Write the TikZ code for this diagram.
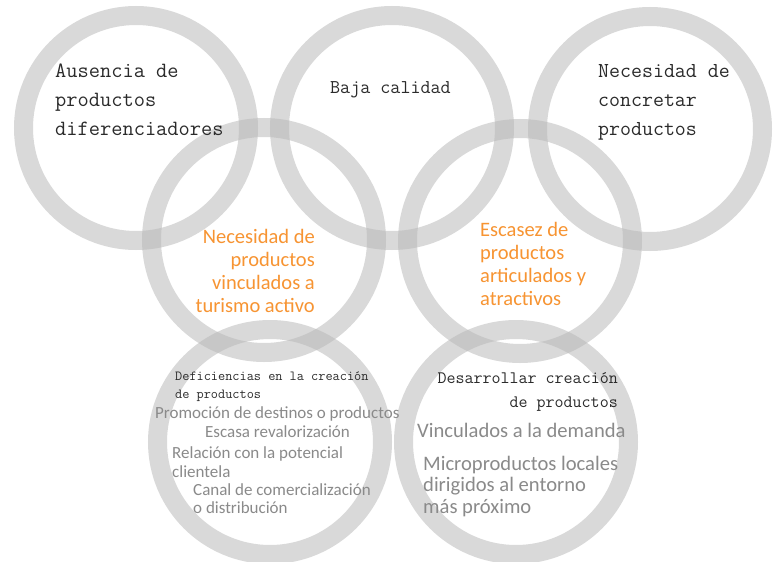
\documentclass[tikz,border=0pt]{standalone}
\usepackage{fontspec}
\setsansfont{Carlito}
\usetikzlibrary{positioning}
\definecolor{Ring}{HTML}{BABABA}
\definecolor{Ink}{HTML}{2B2B2B}
\definecolor{Ash}{HTML}{8A8A8A}
\definecolor{Tangerine}{HTML}{F79432}

\begin{document}
\begin{tikzpicture}[x=1pt, y=-1pt, every node/.style={inner sep=0pt},
    ring/.style={circle, draw=Ring, draw opacity=0.55, line width=19pt, minimum size=225pt},
    hand/.style={font=\ttfamily, text=Ink},
    orange/.style={font=\sffamily, text=Tangerine},
    grey/.style={font=\sffamily, text=Ash}]
      \useasboundingbox[fill=white] (0,0) rectangle (774,562);
      
      % top row
      \node[ring] (c1) at (136,128) {};
      \node[ring] (c2) at (392,128) {};
      \node[ring] (c3) at (650,129) {};
      % middle row
      \node[ring] (c4) at (264,240) {};
      \node[ring] (c5) at (520,241) {};
      % bottom row
      \node[ring] (c6) at (270,442) {};
      \node[ring] (c7) at (516,442) {};
      
      % base anchor = baseline of the last line
      \node[hand, font=\ttfamily\fontsize{21.8}{29}\selectfont, align=left, anchor=base west] (t1) at (55,135) {Ausencia de\\productos\\diferenciadores};
      \node[hand, font=\ttfamily\fontsize{19.5}{29}\selectfont, anchor=base west] (t2) at (330,93) {Baja calidad};
      \node[hand, font=\ttfamily\fontsize{21.3}{29}\selectfont, align=left, anchor=base west] (t3) at (598,135) {Necesidad de\\concretar\\productos};
      
      \node[orange, font=\sffamily\fontsize{20.5}{23}\selectfont, align=right, anchor=base east] (t4) at (315,312) {Necesidad de\\productos\\vinculados a\\turismo activo};
      \node[orange, font=\sffamily\fontsize{20.5}{23}\selectfont, align=left, anchor=base west] (t5) at (480,305) {Escasez de\\productos\\articulados y\\atractivos};
      
      \node[hand, font=\ttfamily\fontsize{13.9}{18}\selectfont, align=left, anchor=base west] (t6) at (175,398) {Deficiencias en la creación\\de productos};
      \node[grey, font=\sffamily\fontsize{17}{19}\selectfont, anchor=base west] (g1) at (155,418) {Promoción de destinos o productos};
      \node[grey, font=\sffamily\fontsize{17}{19}\selectfont, anchor=base west] (g2) at (205,437) {Escasa revalorización};
      \node[grey, font=\sffamily\fontsize{17}{19}\selectfont, align=left, anchor=base west] (g3) at (172,477) {Relación con la potencial\\clientela};
      \node[grey, font=\sffamily\fontsize{17}{18}\selectfont, align=left, anchor=base west] (g4) at (193,513) {Canal de comercialización\\o distribución};
      
      \node[hand, font=\ttfamily\fontsize{17.5}{24}\selectfont, align=right, anchor=base east] (t7) at (618,407) {Desarrollar creación\\de productos};
      \node[grey, font=\sffamily\fontsize{20.6}{22}\selectfont, anchor=base west] (g5) at (417,437) {Vinculados a la demanda};
      \node[grey, font=\sffamily\fontsize{20.6}{21.5}\selectfont, align=left, anchor=base west] (g6) at (423,513) {Microproductos locales\\dirigidos al entorno\\más próximo};
    \end{tikzpicture}
\end{document}
